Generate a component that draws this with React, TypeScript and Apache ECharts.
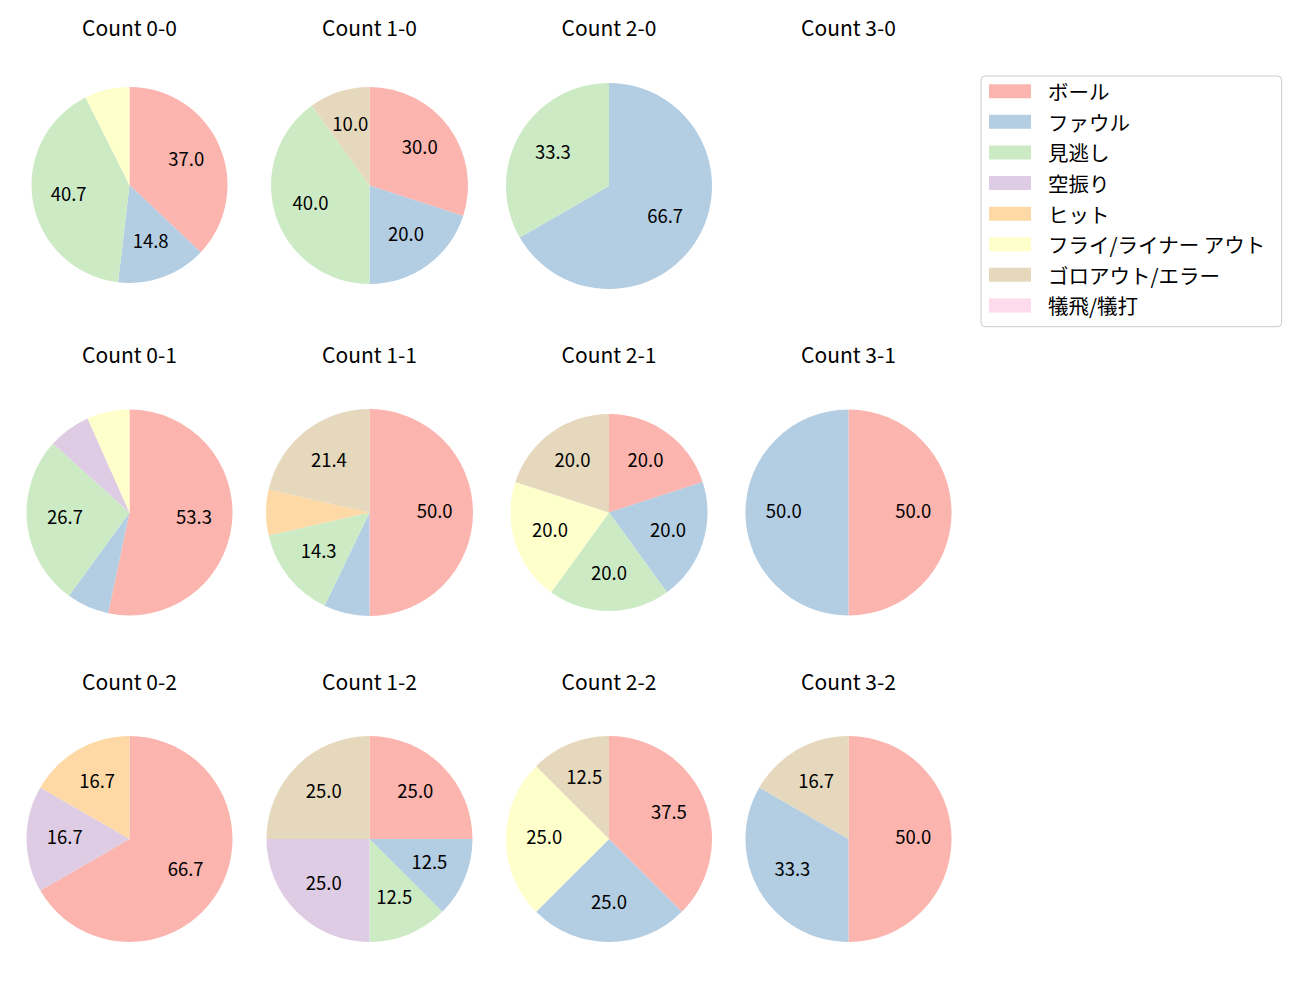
import React, { useEffect, useRef } from 'react';
import * as echarts from 'echarts';

const categories = ['ボール', 'ファウル', '見逃し', '空振り', 'ヒット', 'フライ/ライナー アウト', 'ゴロアウト/エラー', '犠飛/犠打'];
const colors = ['#fbb4ae', '#b3cde3', '#ccebc5', '#decbe4', '#fed9a6', '#ffffcc', '#e5d8bd', '#fddaec'];

const titles = [
  'Count 0-0', 'Count 1-0', 'Count 2-0', 'Count 3-0',
  'Count 0-1', 'Count 1-1', 'Count 2-1', 'Count 3-1',
  'Count 0-2', 'Count 1-2', 'Count 2-2', 'Count 3-2',
];

// counts per category (same order as categories); null = no data
const count00 = [10, 4, 11, 0, 0, 2, 0, 0];
const count10 = [3, 2, 4, 0, 0, 0, 1, 0];
const count20 = [0, 2, 1, 0, 0, 0, 0, 0];
const count30: number[] | null = null;
const count01 = [8, 1, 4, 1, 0, 1, 0, 0];
const count11 = [7, 1, 2, 0, 1, 0, 3, 0];
const count21 = [1, 1, 1, 0, 0, 1, 1, 0];
const count31 = [1, 1, 0, 0, 0, 0, 0, 0];
const count02 = [4, 0, 0, 1, 1, 0, 0, 0];
const count12 = [2, 1, 1, 2, 0, 0, 2, 0];
const count22 = [3, 2, 0, 0, 0, 2, 1, 0];
const count32 = [3, 2, 0, 0, 0, 0, 1, 0];

const allCounts = [count00, count10, count20, count30, count01, count11, count21, count31, count02, count12, count22, count32];

// layout
const colX = [129.5, 369.5, 609, 848.5];
const rowTitleY = [27, 354, 681];
const pieLayout: [number, number, number][] = [
  [129.5, 185, 98], [369.5, 185.5, 98.5], [609, 186, 103], [848.5, 186, 103],
  [129.5, 512.5, 103], [369.5, 512.5, 103.5], [609, 512.5, 98.5], [848.5, 512.5, 103],
  [129.5, 839, 103], [369.5, 839, 103], [609, 839, 103], [848.5, 839, 103],
];
const labelLift = 3;

const FONT = '"Noto Sans CJK JP", "Noto Sans", sans-serif';

export default function App() {
  const ref = useRef<HTMLDivElement>(null);
  useEffect(() => {
    document.body.style.margin = '0';
    const chart = echarts.init(ref.current!, null, { renderer: 'svg' });
    const pieSeries: any[] = [];
    const labelSeries: any[] = [];
    allCounts.forEach((cnt, i) => {
      if (!cnt) return;
      const [cx, cy, r] = pieLayout[i];
      const total = cnt.reduce((a, b) => a + b, 0);
      const data = categories.map((name, k) => ({
        name,
        value: cnt[k],
        itemStyle: { color: colors[k] },
      }));
      pieSeries.push({
        type: 'pie',
        center: [cx, cy],
        radius: [0, r],
        startAngle: 90,
        clockwise: true,
        avoidLabelOverlap: false,
        silent: true,
        label: { show: false },
        labelLine: { show: false },
        itemStyle: { borderWidth: 0 },
        emphasis: { disabled: true },
        data,
      });
      labelSeries.push({
        type: 'pie',
        center: [cx, cy - labelLift],
        radius: [0, r * 1.2],
        startAngle: 90,
        clockwise: true,
        avoidLabelOverlap: false,
        silent: true,
        legendHoverLink: false,
        itemStyle: { color: 'rgba(0,0,0,0)', borderWidth: 0 },
        emphasis: { disabled: true },
        labelLine: { show: false },
        label: {
          show: true,
          position: 'inside',
          color: '#000',
          fontSize: 18.5,
          fontFamily: FONT,
          formatter: (p: any) => {
            const pct = (p.value / total) * 100;
            return pct >= 10 ? pct.toFixed(1) : '';
          },
        },
        data: categories.map((name, k) => ({ name: name + ' ', value: cnt[k] })),
      });
    });

    const graphics: any[] = titles.map((t, i) => ({
      type: 'text',
      x: colX[i % 4],
      y: rowTitleY[Math.floor(i / 4)],
      silent: true,
      style: {
        text: t,
        fill: '#000',
        fontSize: 21,
        fontFamily: FONT,
        align: 'center',
        verticalAlign: 'middle',
      },
    }));

    chart.setOption({
      animation: false,
      backgroundColor: '#ffffff',
      legend: {
        orient: 'vertical',
        left: 981,
        top: 76,
        padding: [5, 16, 11, 8],
        itemWidth: 42,
        itemHeight: 14,
        itemGap: 10.1,
        icon: 'rect',
        borderColor: '#cccccc',
        borderWidth: 1,
        borderRadius: 4,
        selectedMode: false,
        data: categories,
        textStyle: {
          fontSize: 20.5,
          fontFamily: FONT,
          color: '#000',
          padding: [0, 0, 0, 12],
        },
      },
      graphic: graphics,
      series: [...pieSeries, ...labelSeries],
    });
    return () => chart.dispose();
  }, []);
  return <div ref={ref} style={{ width: 1300, height: 1000 }} />;
}
